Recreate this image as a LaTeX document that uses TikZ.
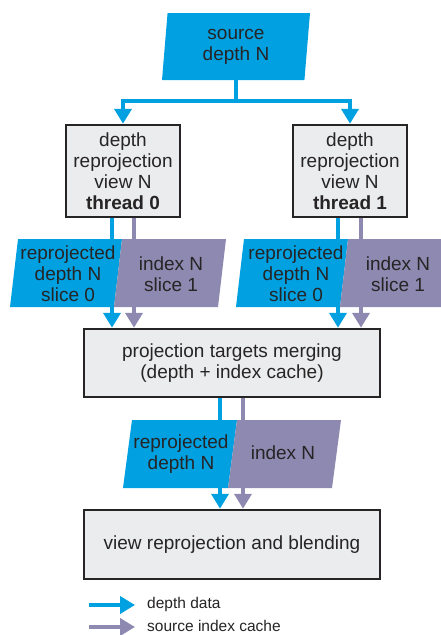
\documentclass[tikz,border=0pt]{standalone}
\usepackage{fontspec}
\setmainfont{Liberation Sans}
\usepackage{xcolor}
\usepackage{tikz}
\usetikzlibrary{arrows.meta,shapes.geometric,calc}
\definecolor{depthcol}{RGB}{0,160,225}
\definecolor{indexcol}{RGB}{142,137,176}
\definecolor{boxcol}{RGB}{235,236,237}
\definecolor{inkcol}{RGB}{38,36,37}
\tikzset{
  proc/.style={rectangle,draw=inkcol,fill=boxcol,line width=2.5pt,inner sep=0pt,align=center,text=inkcol,font=\fontsize{19}{21}\selectfont},
  srcbox/.style={trapezium,trapezium left angle=81,trapezium right angle=99,trapezium stretches body,inner sep=0pt,align=center,text=inkcol,font=\fontsize{19}{21}\selectfont},
  slicetxt/.style={inner sep=0pt,align=center,text=inkcol,font=\fontsize{19}{21}\selectfont},
  dflow/.style={draw=depthcol,line width=4pt,-{Triangle[width=17pt,length=15pt]}},
  iflow/.style={draw=indexcol,line width=4pt,-{Triangle[width=17pt,length=15pt]}}
}

\begin{document}
\begin{tikzpicture}[x=1pt,y=-1pt]
  \useasboundingbox[fill=white] (0,0) rectangle (441,635);
  \clip (0,0) rectangle (441,635);
  \node[srcbox,fill=depthcol,minimum width=148pt,minimum height=67pt] (src) at (236,46.5) {source\\depth N};
  \node[proc,minimum width=114pt,minimum height=92pt] (rp0) at (123,171) {depth\\reprojection\\view N\\\textbf{thread 0}};
  \node[proc,minimum width=114pt,minimum height=92pt] (rp1) at (350,171) {depth\\reprojection\\view N\\\textbf{thread 1}};
  \node[proc,minimum width=296pt,minimum height=68pt] (merge) at (232,363) {projection targets merging\\(depth + index cache)};
  \node[proc,minimum width=296pt,minimum height=69pt] (blend) at (232,544.5) {view reprojection and blending};
  % slice shapes
  \fill[depthcol] (10,307) -- (114,307) -- (122,239) -- (18,239) -- cycle;
  \fill[indexcol] (114,307) -- (218,307) -- (226,239) -- (122,239) -- cycle;
  \fill[depthcol] (236,307) -- (340,307) -- (348,239) -- (244,239) -- cycle;
  \fill[indexcol] (340,307) -- (444,307) -- (452,239) -- (348,239) -- cycle;
  \fill[depthcol] (123,488) -- (228,488) -- (237,420) -- (132,420) -- cycle;
  \fill[indexcol] (228,488) -- (332,488) -- (341,420) -- (237,420) -- cycle;
  \draw[dflow] (src.south) -- ++(0,21) -| (rp0.north);
  \draw[dflow] (src.south) -- ++(0,21) -| (rp1.north);
  \draw[dflow] ([xshift=-11pt]rp0.south) -- ([xshift=-11pt]rp0.south |- merge.north);
  \draw[iflow] ([xshift=11pt]rp0.south) -- ([xshift=11pt]rp0.south |- merge.north);
  \draw[dflow] ([xshift=-12pt]rp1.south) -- ([xshift=-12pt]rp1.south |- merge.north);
  \draw[iflow] ([xshift=11pt]rp1.south) -- ([xshift=11pt]rp1.south |- merge.north);
  \draw[dflow] ([xshift=-12pt]merge.south) -- ([xshift=-12pt]merge.south |- blend.north);
  \draw[iflow] ([xshift=11pt]merge.south) -- ([xshift=11pt]merge.south |- blend.north);
  % slice texts
  \node[slicetxt] (d0) at (68,274) {reprojected\\depth N\\slice 0};
  \node[slicetxt] (i0) at (171,274) {index N\\slice 1};
  \node[slicetxt] (d1) at (296,274) {reprojected\\depth N\\slice 0};
  \node[slicetxt] (i1) at (398,274) {index N\\slice 1};
  \node[slicetxt] (dm) at (181,454) {reprojected\\depth N};
  \node[slicetxt] (im) at (283,453) {index N};
  % legend
  \coordinate (ld0) at (89,605);\coordinate (ld1) at (135,605);
  \coordinate (li0) at (89,627);\coordinate (li1) at (135,627);
  \draw[dflow] (ld0) -- (ld1);
  \draw[iflow] (li0) -- (li1);
  \node[anchor=west,text=inkcol,font=\fontsize{15.5}{18}\selectfont,inner sep=0pt] (ldt) at (147,604) {depth data};
  \node[anchor=west,text=inkcol,font=\fontsize{15.5}{18}\selectfont,inner sep=0pt] (lit) at (147,626) {source index cache};
\end{tikzpicture}
\end{document}
